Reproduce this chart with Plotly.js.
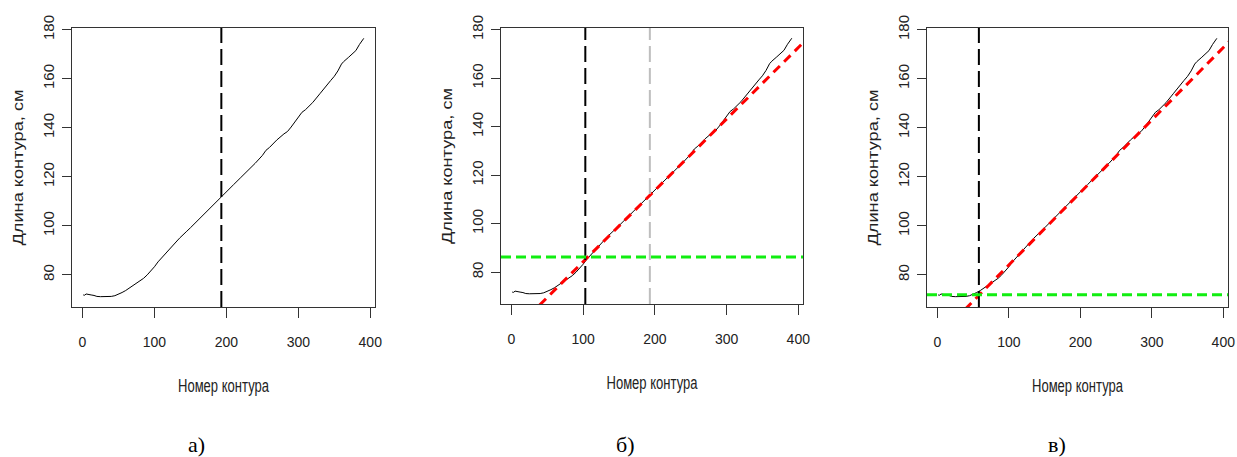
<!DOCTYPE html>
<html>
<head>
<meta charset="utf-8">
<script src="https://cdn.plot.ly/plotly-3.0.1.min.js"></script>
<style>
  html, body { margin: 0; padding: 0; background: #fff; }
  #chart { width: 1237px; height: 457px; }
</style>
</head>
<body>
<div id="chart"></div>
<script>
// ---- data ----
const contourNo = [1,3,5,8,12,16,20,25,30,35,40,45,50,55,60,65,70,75,80,85,90,95,100,105,110,115,120,125,130,135,140,145,150,160,170,180,190,200,210,220,230,240,250,255,260,270,280,285,290,295,300,305,310,320,330,340,345,350,355,360,363,370,375,380,385,391];
const contourLen = [71.8,71.7,72.2,71.9,71.8,71.6,71.2,71.1,71.1,71.1,71.2,71.5,72.0,72.8,73.6,74.6,75.6,76.5,77.5,78.6,80.0,81.5,83.3,85.3,87.0,88.6,90.2,91.9,93.4,95.0,96.6,97.8,99.2,102.2,105.0,108.0,111.0,114.0,116.8,119.7,122.5,125.5,128.7,130.8,132.0,135.0,137.5,138.5,140.3,142.3,144.5,146.3,147.4,150.3,153.9,157.8,159.3,161.0,163.2,166.0,167.0,168.8,170.0,171.5,174.0,176.5];
const xTicks = [0,100,200,300,400];
const yTicks = [80,100,120,140,160,180];
const panelLabels = ['а)','б)','в)'];
const blackBreak = [193, 103, 58];      // black dashed vertical line per panel
const grayBreak = [null, 193, null];    // gray dashed vertical line
const greenLevel = [null, 86.3, 71.9];  // green dashed horizontal line
const fitIntercept = [null, 54.9, 54.5];
const fitSlope = [null, 0.2943, 0.2956];
const xTitle = 'Номер контура';
const yTitle = 'Длина контура, см';

// ---- layout constants (pixels) ----
const W = 1237, H = 457;
const boxes = [
  {l:72, r:375, t:28, b:307},
  {l:501, r:803, t:28, b:304},
  {l:927, r:1228, t:28, b:307}
];
const labelX = [197, 626, 1057];
const labelY = 444;
const xTitleLen = 91;   // rendered length of the (condensed) x title
const yTitleLen = 156;  // rendered length of the (elongated) y title

function rRange(arr) {
  const mn = Math.min(...arr), mx = Math.max(...arr);
  const d = (mx - mn) * 0.04;
  return [mn - d, mx + d];
}
const xr = rRange(contourNo);
const yr = rRange(contourLen);

const xTickFont = {family: 'Liberation Sans, Arial, sans-serif', size: 14, color: '#222'};
const yTickFont = {family: 'Liberation Sans, Arial, sans-serif', size: 15, color: '#222'};
const xTitleFont = {family: 'Liberation Sans, Arial, sans-serif', size: 17.5, color: '#222'};
const yTitleFont = {family: 'Liberation Sans, Arial, sans-serif', size: 15, color: '#222'};

const traces = [];
const shapes = [];
const annotations = [];
const layout = {
  width: W, height: H,
  margin: {l:0, r:0, t:0, b:0},
  paper_bgcolor: '#fff', plot_bgcolor: '#fff',
  showlegend: false
};

boxes.forEach((bx, i) => {
  const n = i + 1;
  const xa = 'xaxis' + (n === 1 ? '' : n);
  const ya = 'yaxis' + (n === 1 ? '' : n);
  const xref = 'x' + (n === 1 ? '' : n);
  const yref = 'y' + (n === 1 ? '' : n);
  layout[xa] = {
    domain: [bx.l / W, bx.r / W],
    anchor: yref,
    range: xr, autorange: false,
    tickmode: 'array', tickvals: xTicks, ticktext: xTicks.map(String),
    ticks: 'outside', ticklen: 10, tickwidth: 1, tickcolor: '#333',
    showline: true, linecolor: '#333', linewidth: 1, mirror: true,
    showgrid: false, zeroline: false,
    tickfont: xTickFont, ticklabelstandoff: 12, ticklabeloverflow: 'allow',
    title: {text: xTitle, font: xTitleFont, standoff: 30},
    automargin: false
  };
  layout[ya] = {
    domain: [1 - bx.b / H, 1 - bx.t / H],
    anchor: xref,
    range: yr, autorange: false,
    tickmode: 'array', tickvals: yTicks, ticktext: yTicks.map(String),
    tickangle: -90,
    ticks: 'outside', ticklen: 9, tickwidth: 1, tickcolor: '#333',
    showline: true, linecolor: '#333', linewidth: 1, mirror: true,
    showgrid: false, zeroline: false,
    tickfont: yTickFont, ticklabelstandoff: 2, ticklabeloverflow: 'allow',
    title: {text: yTitle, font: yTitleFont, standoff: 12},
    automargin: false
  };

  // contour length curve
  traces.push({
    type: 'scatter', mode: 'lines', x: contourNo, y: contourLen,
    xaxis: xref, yaxis: yref,
    line: {color: '#000', width: 1}, hoverinfo: 'skip'
  });

  // fitted line
  if (fitIntercept[i] !== null) {
    const fx = [xr[0] - 50, xr[1] + 50];
    traces.push({
      type: 'scatter', mode: 'lines', x: fx,
      y: fx.map(v => fitIntercept[i] + fitSlope[i] * v),
      xaxis: xref, yaxis: yref,
      line: {color: '#ff0000', width: 3, dash: '9px,6px'}, hoverinfo: 'skip'
    });
  }

  if (grayBreak[i] !== null) {
    shapes.push({type: 'line', xref: xref, yref: yref + ' domain',
      x0: grayBreak[i], x1: grayBreak[i], y0: 0, y1: 1,
      line: {color: '#bebebe', width: 2, dash: '16px,6px'}});
  }
  shapes.push({type: 'line', xref: xref, yref: yref + ' domain',
    x0: blackBreak[i], x1: blackBreak[i], y0: 0, y1: 1,
    line: {color: '#000', width: 2, dash: '16px,6px'}});
  if (greenLevel[i] !== null) {
    shapes.push({type: 'line', xref: xref + ' domain', yref: yref,
      x0: 0, x1: 1, y0: greenLevel[i], y1: greenLevel[i],
      line: {color: '#11ee11', width: 3, dash: '10px,5px'}});
  }

  annotations.push({
    xref: 'paper', yref: 'paper',
    x: labelX[i] / W, y: 1 - labelY / H,
    xanchor: 'center', yanchor: 'middle',
    text: panelLabels[i], showarrow: false,
    font: {family: 'Liberation Serif, Times New Roman, serif', size: 22, color: '#000'}
  });
});

layout.shapes = shapes;
layout.annotations = annotations;

Plotly.newPlot('chart', traces, layout, {staticPlot: true, displayModeBar: false}).then(gd => {
  // mimic the condensed x titles / elongated y titles of the original figure
  gd.querySelectorAll('text').forEach(t => {
    const c = t.getAttribute('class') || '';
    if (/^x\d*title$/.test(c)) {
      t.setAttribute('textLength', xTitleLen);
      t.setAttribute('lengthAdjust', 'spacingAndGlyphs');
    } else if (/^y\d*title$/.test(c)) {
      t.setAttribute('textLength', yTitleLen);
      t.setAttribute('lengthAdjust', 'spacingAndGlyphs');
    }
  });
});
</script>
</body>
</html>
